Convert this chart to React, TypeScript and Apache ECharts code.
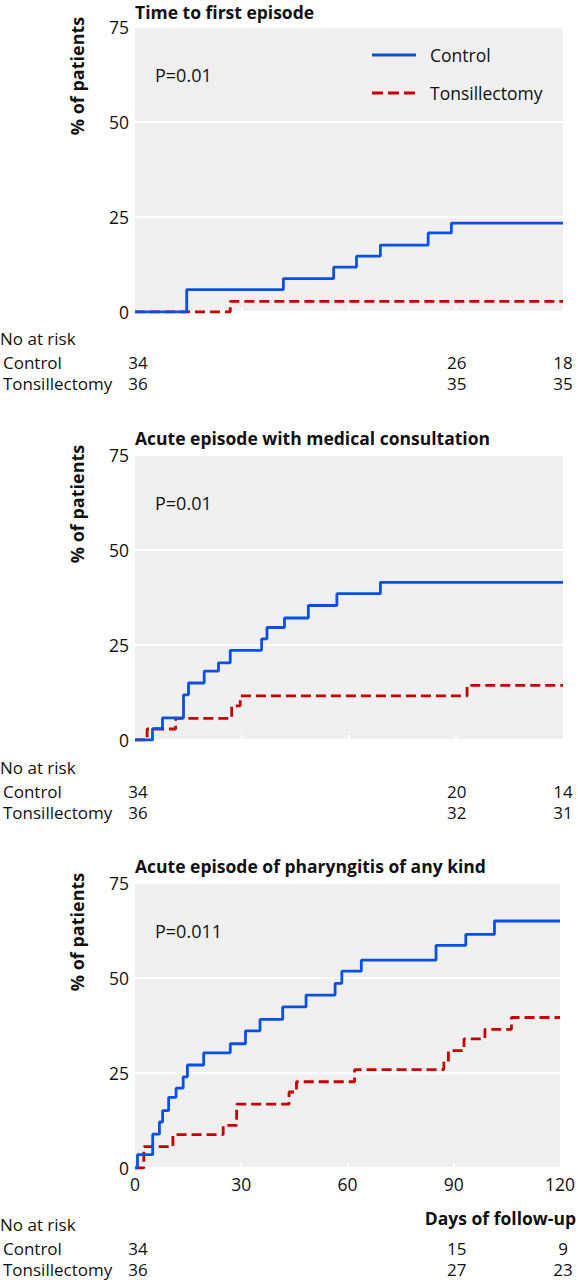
import React, { useEffect, useRef } from "react";
import * as echarts from "echarts";

// ---- Data ----
const panelTitles = [
  "Time to first episode",
  "Acute episode with medical consultation",
  "Acute episode of pharyngitis of any kind",
];
const pValues = ["P=0.01", "P=0.01", "P=0.011"];
const groupNames = ["Control", "Tonsillectomy"];
const yTicks = [0, 25, 50, 75];
const xTicks = [0, 30, 60, 90, 120];

// Panel 1: time to first episode
const ctrl1Days = [0, 14.5, 41.6, 55.7, 62.1, 68.8, 82.2, 88.7, 120];
const ctrl1Pct = [0, 5.9, 8.8, 11.8, 14.7, 17.6, 20.8, 23.4, 23.4];
const ton1Days = [0, 26.7, 120];
const ton1Pct = [0, 2.8, 2.8];

// Panel 2: acute episode with medical consultation
const ctrl2Days = [0, 4.9, 7.7, 13.6, 15.0, 19.4, 23.4, 26.7, 35.5, 37.0, 41.9, 48.6, 56.6, 68.8, 120];
const ctrl2Pct = [0, 3.0, 5.8, 11.9, 15.0, 18.1, 20.3, 23.6, 26.6, 29.6, 32.1, 35.4, 38.5, 41.5, 41.5];
const ton2Days = [0, 3.4, 11.4, 27.1, 29.5, 93.1, 120];
const ton2Pct = [0, 2.9, 5.7, 9.0, 11.6, 14.4, 14.4];

// Panel 3: acute episode of pharyngitis of any kind
const ctrl3Days = [0, 0.7, 5.0, 6.9, 7.8, 9.5, 11.6, 13.6, 14.8, 19.4, 26.9, 31.2, 35.3, 41.7, 48.3, 56.5, 58.4, 63.9, 85.0, 93.4, 101.5, 120];
const ctrl3Pct = [0, 3.5, 8.9, 12.1, 15.1, 18.6, 21.0, 24.0, 27.1, 30.3, 32.7, 36.1, 39.1, 42.4, 45.5, 48.6, 51.8, 54.7, 58.6, 61.5, 65.0, 65.0];
const ton3Days = [0, 2.5, 10.7, 24.9, 28.7, 43.5, 45.6, 62.0, 87.2, 88.5, 92.9, 98.8, 106.3, 120];
const ton3Pct = [0, 5.6, 8.8, 11.2, 16.8, 20.0, 22.7, 25.9, 28.0, 30.9, 34.0, 36.5, 39.6, 39.6];

// Numbers at risk
const riskDays = [0, 90, 120];
const riskCtrl1 = [34, 26, 18];
const riskTon1 = [36, 35, 35];
const riskCtrl2 = [34, 20, 14];
const riskTon2 = [36, 32, 31];
const riskCtrl3 = [34, 15, 9];
const riskTon3 = [36, 27, 23];

// ---- Styling / layout ----
const FONT = '"Open Sans", "Noto Sans", sans-serif';
const BLUE = "#0a50e4";
const RED = "#c80000";
const TEXT = "#111111";
const PLOT_BG = "#efefef";
const REG = 17.5;
const TABLE = 17;
const BOLD = 17.5;

const plotLeft = 135;
const plotWidth = 428;
const plotTops = [27, 455, 883];
const plotHeight = 285;
const titleYs = [12, 438, 866];
const riskTops = [351.5, 781, 1237.5];
const riskHeight = 42;

function zip(xs: number[], ys: number[]) {
  return xs.map((x, i) => [x, ys[i]]);
}

export default function App() {
  const ref = useRef<HTMLDivElement>(null);

  useEffect(() => {
    if (!ref.current) return;
    const chart = echarts.init(ref.current, undefined, { renderer: "svg" });

    const curves = [
      [zip(ctrl1Days, ctrl1Pct), zip(ton1Days, ton1Pct)],
      [zip(ctrl2Days, ctrl2Pct), zip(ton2Days, ton2Pct)],
      [zip(ctrl3Days, ctrl3Pct), zip(ton3Days, ton3Pct)],
    ];
    const risks = [
      [riskCtrl1, riskTon1],
      [riskCtrl2, riskTon2],
      [riskCtrl3, riskTon3],
    ];

    const grid: any[] = [];
    const xAxis: any[] = [];
    const yAxis: any[] = [];
    const series: any[] = [];
    const graphic: any[] = [];

    for (let p = 0; p < 3; p++) {
      grid.push({
        left: plotLeft,
        top: plotTops[p],
        width: plotWidth,
        height: plotHeight,
        show: true,
        backgroundColor: PLOT_BG,
        borderWidth: 0,
      });
      xAxis.push({
        type: "value",
        gridIndex: p,
        min: xTicks[0],
        max: xTicks[xTicks.length - 1],
        interval: 30,
        axisLine: { show: false },
        axisTick: {
          show: true,
          inside: true,
          length: 5,
          customValues: xTicks.slice(1, -1),
          lineStyle: { color: "#ffffff", width: 2 },
        },
        splitLine: { show: false },
        axisLabel: {
          show: p === 2,
          fontSize: REG,
          fontFamily: FONT,
          color: TEXT,
          margin: 7,
        },
      });
      yAxis.push({
        type: "value",
        gridIndex: p,
        min: yTicks[0],
        max: yTicks[yTicks.length - 1],
        interval: 25,
        axisLine: { show: false },
        axisTick: { show: false },
        splitLine: { show: true, lineStyle: { color: "#ffffff", width: 2 } },
        axisLabel: {
          fontSize: REG,
          fontFamily: FONT,
          color: TEXT,
          margin: 6,
        },
      });
      series.push({
        name: groupNames[1],
        type: "line",
        xAxisIndex: p,
        yAxisIndex: p,
        step: "end",
        symbol: "none",
        data: curves[p][1],
        lineStyle: { color: RED, width: 2.8, type: [10, 5] },
        itemStyle: { color: RED },
        z: 3,
      });
      series.push({
        name: groupNames[0],
        type: "line",
        xAxisIndex: p,
        yAxisIndex: p,
        step: "end",
        symbol: "none",
        data: curves[p][0],
        lineStyle: { color: BLUE, width: 2.8 },
        itemStyle: { color: BLUE },
        z: 4,
      });
    }

    // At-risk tables
    for (let p = 0; p < 3; p++) {
      const gi = 3 + p;
      grid.push({
        left: plotLeft,
        top: riskTops[p],
        width: plotWidth,
        height: riskHeight,
        show: false,
      });
      xAxis.push({
        type: "value",
        gridIndex: gi,
        min: xTicks[0],
        max: xTicks[xTicks.length - 1],
        show: false,
      });
      yAxis.push({
        type: "category",
        gridIndex: gi,
        data: [groupNames[1], groupNames[0]],
        axisLine: { show: false },
        axisTick: { show: false },
        splitLine: { show: false },
        axisLabel: {
          interval: 0,
          hideOverlap: false,
          align: "left",
          margin: plotLeft,
          fontSize: TABLE,
          lineHeight: 18,
          fontFamily: FONT,
          color: TEXT,
        },
      });
      const data: any[] = [];
      riskDays.forEach((d, i) => {
        data.push([d, groupNames[0], risks[p][0][i]]);
        data.push([d, groupNames[1], risks[p][1][i]]);
      });
      series.push({
        type: "scatter",
        xAxisIndex: gi,
        yAxisIndex: gi,
        symbolSize: 1,
        itemStyle: { color: "rgba(0,0,0,0)" },
        silent: true,
        data,
        label: {
          show: true,
          position: "inside",
          formatter: (prm: any) => String(prm.value[2]),
          fontSize: TABLE,
          lineHeight: 18,
          fontFamily: FONT,
          color: TEXT,
          textBorderWidth: 0,
          opacity: 1,
          align: "center",
          verticalAlign: "middle",
        },
      });

      // Titles
      graphic.push({
        type: "text",
        x: plotLeft,
        y: titleYs[p],
        style: {
          text: panelTitles[p],
          fontSize: BOLD,
          lineHeight: 18,
          fontWeight: "bold",
          fontFamily: FONT,
          fill: TEXT,
          align: "left",
          verticalAlign: "middle",
        },
      });
      // Y axis name
      graphic.push({
        type: "text",
        x: 77,
        y: plotTops[p] + 49,
        rotation: Math.PI / 2,
        style: {
          text: "% of patients",
          fontSize: 18,
          fontWeight: "bold",
          fontFamily: FONT,
          fill: TEXT,
          align: "center",
          verticalAlign: "middle",
        },
      });
      // P value
      graphic.push({
        type: "text",
        x: 155,
        y: plotTops[p] + 48,
        style: {
          text: pValues[p],
          fontSize: 18,
          fontFamily: FONT,
          fill: TEXT,
          align: "left",
          verticalAlign: "middle",
        },
      });
      // "No at risk"
      graphic.push({
        type: "text",
        x: 0,
        y: riskTops[p] - 13.5,
        style: {
          text: "No at risk",
          fontSize: TABLE,
          lineHeight: 18,
          fontFamily: FONT,
          fill: TEXT,
          align: "left",
          verticalAlign: "middle",
        },
      });
    }
    graphic.push({
      type: "text",
      x: 576,
      y: 1218,
      style: {
        text: "Days of follow-up",
        fontSize: BOLD,
        lineHeight: 18,
        fontWeight: "bold",
        fontFamily: FONT,
        fill: TEXT,
        align: "right",
        verticalAlign: "middle",
      },
    });

    // Legend (top panel)
    const legendYs = [55, 93];
    const legendColors = [BLUE, RED];
    const legendDash: any[] = [null, [11, 5]];
    for (let i = 0; i < 2; i++) {
      graphic.push({
        type: "line",
        shape: { x1: 372, y1: legendYs[i], x2: 416, y2: legendYs[i] },
        style: {
          stroke: legendColors[i],
          lineWidth: 2.8,
          lineDash: legendDash[i] || undefined,
        },
        z: 10,
      });
      graphic.push({
        type: "text",
        x: 430,
        y: legendYs[i],
        style: {
          text: groupNames[i],
          fontSize: REG,
          fontFamily: FONT,
          fill: TEXT,
          align: "left",
          verticalAlign: "middle",
        },
        z: 10,
      });
    }

    chart.setOption({
      animation: false,
      backgroundColor: "#ffffff",
      textStyle: { fontFamily: FONT },
      grid,
      xAxis,
      yAxis,
      series,
      graphic,
    });

    return () => chart.dispose();
  }, []);

  return (
    <div
      ref={ref}
      style={{ position: "absolute", left: 0, top: 0, width: 578, height: 1280 }}
    />
  );
}
